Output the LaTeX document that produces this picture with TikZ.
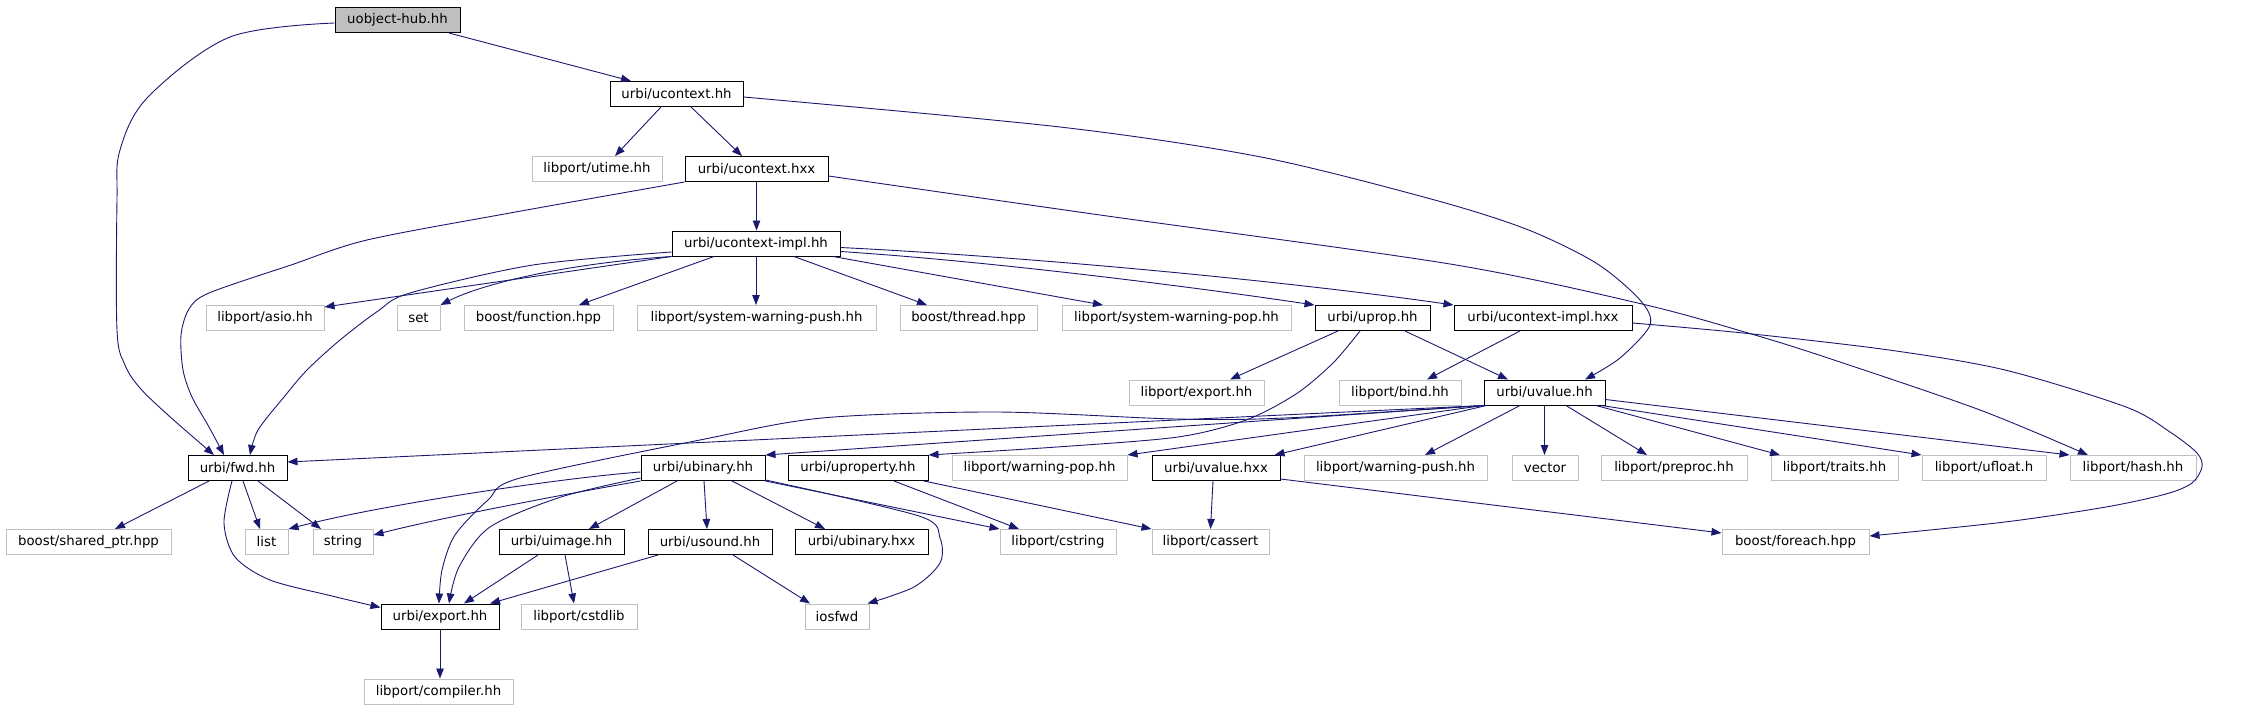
\documentclass[tikz,border=0pt]{standalone}
\usepackage{fontspec}
\newfontfamily\dv{DejaVu Sans}
\usetikzlibrary{arrows.meta}
\definecolor{mblue}{RGB}{25,25,112}
\definecolor{lgray}{RGB}{191,191,191}
\begin{document}
\begin{tikzpicture}[x=1pt,y=-1pt,
  box/.style={rectangle, minimum height=25pt, inner sep=0pt, line width=1pt, font={\dv\fontsize{13.3}{16}\selectfont}},
  inc/.style={box, draw=black, fill=white},
  ext/.style={box, draw=lgray, fill=white},
  root/.style={box, draw=black, fill=lgray},
  e/.style={draw=mblue, line width=0.9pt, -{Triangle[length=10pt,width=7.5pt]}}]
\useasboundingbox (0,0) rectangle (2241,709);
% row 0-3
\node[root, minimum width=125] (hub) at (397.5,20) {uobject-hub.hh};
\node[inc, minimum width=133] (uctx) at (676.5,94) {urbi/ucontext.hh};
\node[ext, minimum width=130] (utime) at (597,169) {libport/utime.hh};
\node[inc, minimum width=143] (uctxx) at (756.5,169) {urbi/ucontext.hxx};
\node[inc, minimum width=168] (impl) at (756,243.5) {urbi/ucontext-impl.hh};
% row 4
\node[ext, minimum width=118] (asio) at (265,318) {libport/asio.hh};
\node[ext, minimum width=43] (set) at (418.5,318) {set};
\node[ext, minimum width=149] (function) at (538.5,318) {boost/function.hpp};
\node[ext, minimum width=239] (swpush) at (756.5,318) {libport/system-warning-push.hh};
\node[ext, minimum width=137] (thread) at (968.5,318) {boost/thread.hpp};
\node[ext, minimum width=229] (swpop) at (1176.5,318) {libport/system-warning-pop.hh};
\node[inc, minimum width=115] (uprop) at (1372.5,318) {urbi/uprop.hh};
\node[inc, minimum width=178] (implhxx) at (1543,318) {urbi/ucontext-impl.hxx};
% row 5
\node[ext, minimum width=135] (lexport) at (1196.5,392.5) {libport/export.hh};
\node[ext, minimum width=122] (bind) at (1400,392.5) {libport/bind.hh};
\node[inc, minimum width=121] (uvalue) at (1544.5,392.5) {urbi/uvalue.hh};
% row 6
\node[inc, minimum width=99] (fwd) at (237.5,468) {urbi/fwd.hh};
\node[inc, minimum width=124] (ubinary) at (703,468) {urbi/ubinary.hh};
\node[inc, minimum width=140] (uproperty) at (858,468) {urbi/uproperty.hh};
\node[ext, minimum width=175] (wpop) at (1039.5,468) {libport/warning-pop.hh};
\node[inc, minimum width=128] (uvaluehxx) at (1216,468) {urbi/uvalue.hxx};
\node[ext, minimum width=183] (wpush) at (1395.5,468) {libport/warning-push.hh};
\node[ext, minimum width=66] (vector) at (1545,468) {vector};
\node[ext, minimum width=146] (preproc) at (1674,468) {libport/preproc.hh};
\node[ext, minimum width=127] (traits) at (1834.5,468) {libport/traits.hh};
\node[ext, minimum width=124] (ufloat) at (1984,468) {libport/ufloat.h};
\node[ext, minimum width=126] (hash) at (2133,468) {libport/hash.hh};
% row 7
\node[ext, minimum width=165] (sharedptr) at (88.5,542) {boost/shared\_ptr.hpp};
\node[ext, minimum width=43] (list) at (266.5,542) {list};
\node[ext, minimum width=60] (string) at (343,542) {string};
\node[inc, minimum width=125] (uimage) at (561.5,542) {urbi/uimage.hh};
\node[inc, minimum width=124] (usound) at (710,542) {urbi/usound.hh};
\node[inc, minimum width=133] (ubinaryhxx) at (861.5,542) {urbi/ubinary.hxx};
\node[ext, minimum width=116] (cstring) at (1058,542) {libport/cstring};
\node[ext, minimum width=117] (cassert) at (1210.5,542) {libport/cassert};
\node[ext, minimum width=147] (foreach) at (1795.5,542) {boost/foreach.hpp};
% row 8-9
\node[inc, minimum width=118] (export) at (440,616.5) {urbi/export.hh};
\node[ext, minimum width=116] (cstdlib) at (579,616.5) {libport/cstdlib};
\node[ext, minimum width=64] (iosfwd) at (837,616.5) {iosfwd};
\node[ext, minimum width=149] (compiler) at (438.5,691.5) {libport/compiler.hh};

% edges
\draw[e] ([xshift=51.5]hub.south) -- ([xshift=-45.5]uctx.north);
\draw[e] plot[smooth,tension=0.55] coordinates {([yshift=-3]hub.west) (230,37) (148,97) (120,150) (117,200) (117,330) (125,365) (140,388) (168,415) ([xshift=-23.5]fwd.north)};
\draw[e] ([xshift=-15.5]uctx.south) -- ([xshift=18]utime.north);
\draw[e] ([xshift=14.5]uctx.south) -- ([xshift=-14.5]uctxx.north);
\draw[e] plot[smooth,tension=0.5] coordinates {([yshift=-3]uctx.east) (1060,127) (1261,157) (1431,199) (1526,229) (1596,263) (1640,300) (1650,325) (1620,358) ([xshift=40.5]uvalue.north)};
\draw[e] (uctxx.south) -- (uctxx.south |- impl.north);
\draw[e] plot[smooth,tension=0.5] coordinates {(uctxx.south west) (510,213) (367,240) (291,265) (209,293) (189,309) (181,335) (183,370) (192,397) (209,427) ([xshift=-13.5]fwd.north)};
\draw[e] plot[smooth,tension=0.5] coordinates {([yshift=-7]uctxx.east) (1100,215) (1450,264) (1642,304) (1748,333) (1828,358) (1980,410) ([xshift=-45]hash.north)};
% ucontext-impl.hh
\draw[e] (impl.south west) -- ([yshift=-2]asio.north east);
\draw[e] (impl.south west) .. controls (560,264) and (480,285) .. (set.north east);
\draw[e] ([xshift=-42]impl.south) -- ([xshift=40.5]function.north);
\draw[e] (impl.south) -- (impl.south |- swpush.north);
\draw[e] ([xshift=38]impl.south) -- ([xshift=-41.5]thread.north);
\draw[e] ([xshift=77]impl.south) -- ([xshift=-73.5]swpop.north);
\draw[e] ([yshift=-8]impl.east) .. controls (1000,262) and (1200,288) .. (uprop.north west);
\draw[e] ([yshift=-4]impl.east) .. controls (1050,258) and (1300,283) .. (implhxx.north west);
\draw[e] plot[smooth,tension=0.5] coordinates {([yshift=-8.5]impl.west) (533,265) (410,293) (378,311) (340,340) (307,370) (284,397) (258,430) ([xshift=12.5]fwd.north)};
% uprop.hh
\draw[e] ([xshift=-34.5]uprop.south) -- ([xshift=33.5]lexport.north);
\draw[e] ([xshift=32.5]uprop.south) -- ([xshift=-36.5]uvalue.north);
\draw[e] plot[smooth,tension=0.5] coordinates {([xshift=-12.5]uprop.south) (1333,363) (1296,394) (1246,420) (1178,437) (1057,447) (uproperty.north east)};
% ucontext-impl.hxx
\draw[e] ([xshift=-23]implhxx.south) -- ([xshift=27]bind.north);
\draw[e] plot[smooth,tension=0.5] coordinates {([yshift=-5]implhxx.east) (1743,333) (1889,350) (2005,370) (2126,407) (2170,432) (2197,453) (2202,467) (2192,483) (2166,494) (2106,507) (2005,522) ([yshift=6]foreach.east)};
% uvalue.hh
\draw[e] (uvalue.south west) -- ([yshift=6]fwd.east);
\draw[e] plot[smooth,tension=0.5] coordinates {(uvalue.south west) (1285,418) (1175,419) (996,412) (822,418) (700,440) (520,478) (488,500) (455,535) (442,570) ([xshift=-1]export.north)};
\draw[e] (uvalue.south west) -- (ubinary.north east);
\draw[e] (uvalue.south west) -- (wpop.north east);
\draw[e] ([xshift=3]uvalue.south west) -- ([xshift=-6]uvaluehxx.north east);
\draw[e] ([xshift=-24.5]uvalue.south) -- ([xshift=29.5]wpush.north);
\draw[e] (uvalue.south) -- (uvalue.south |- vector.north);
\draw[e] ([xshift=21.5]uvalue.south) -- ([xshift=-27]preproc.north);
\draw[e] ([xshift=51.5]uvalue.south) -- ([xshift=-54.5]traits.north);
\draw[e] ([xshift=-4]uvalue.south east) -- (ufloat.north west);
\draw[e] ([yshift=-7]uvalue.east) -- (hash.north west);
% fwd.hh
\draw[e] ([xshift=-28.5]fwd.south) -- ([xshift=26.5]sharedptr.north);
\draw[e] ([xshift=5.5]fwd.south) -- ([xshift=-6.5]list.north);
\draw[e] ([xshift=20.5]fwd.south) -- ([xshift=-22]string.north);
\draw[e] plot[smooth,tension=0.5] coordinates {([xshift=-5.5]fwd.south) (224,523) (235,557) (270,580) (332,596) ([yshift=9]export.west)};
% ubinary.hh
\draw[e] ([yshift=-4]ubinary.west) .. controls (560,478) and (380,505) .. (list.north east);
\draw[e] (ubinary.south west) .. controls (560,495) and (440,518) .. ([yshift=7]string.east);
\draw[e] plot[smooth,tension=0.5] coordinates {([yshift=3]ubinary.south west) (561,497) (490,527) (459,567) ([xshift=9]export.north)};
\draw[e] ([xshift=-26]ubinary.south) -- ([xshift=27.5]uimage.north);
\draw[e] ([xshift=1]ubinary.south) -- ([xshift=-3]usound.north);
\draw[e] ([xshift=29]ubinary.south) -- ([xshift=-36.5]ubinaryhxx.north);
\draw[e] (ubinary.south east) -- (cstring.north west);
\draw[e] plot[smooth,tension=0.5] coordinates {([yshift=1]ubinary.south east) (919,516) (940,538) (940,563) (914,587) ([xshift=-2]iosfwd.north east)};
% uproperty.hh, uvalue.hxx
\draw[e] ([xshift=36]uproperty.south) -- ([xshift=-39]cstring.north);
\draw[e] ([xshift=66]uproperty.south) -- (cassert.north west);
\draw[e] ([xshift=-3]uvaluehxx.south) -- (cassert.north);
\draw[e] ([yshift=-11]uvaluehxx.east) -- ([yshift=9]foreach.west);
% uimage, usound, export
\draw[e] ([xshift=-23.5]uimage.south) -- ([xshift=24]export.north);
\draw[e] ([xshift=3.5]uimage.south) -- ([xshift=-5]cstdlib.north);
\draw[e] ([xshift=-52]usound.south) -- ([xshift=50]export.north);
\draw[e] ([xshift=23]usound.south) -- ([xshift=-27]iosfwd.north);
\draw[e] (export.south) -- (export.south |- compiler.north);
\end{tikzpicture}
\end{document}
